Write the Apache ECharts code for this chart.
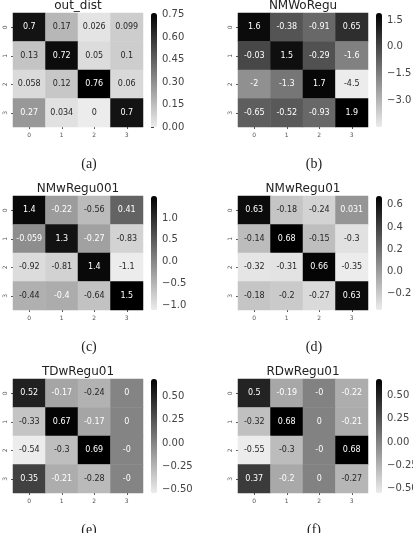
<!DOCTYPE html>
<html>
<head>
<meta charset="utf-8">
<script src="https://cdn.jsdelivr.net/npm/echarts@6/dist/echarts.min.js"></script>
<style>
html,body{margin:0;padding:0;background:#fff;}
#main{width:413px;height:533px;}
</style>
</head>
<body>
<div id="main"></div>
<script>
var cats = ['0', '1', '2', '3'];

var outDist = [
    [0.7, 0.17, 0.026, 0.099],
    [0.13, 0.72, 0.05, 0.1],
    [0.058, 0.12, 0.76, 0.06],
    [0.27, 0.034, 0, 0.7]
];
var nmWoRegu = [
    [1.6, -0.38, -0.91, 0.65],
    [-0.03, 1.5, -0.29, -1.6],
    [-2, -1.3, 1.7, -4.5],
    [-0.65, -0.52, -0.93, 1.9]
];
var nmwRegu001 = [
    [1.4, -0.22, -0.56, 0.41],
    [-0.059, 1.3, -0.27, -0.83],
    [-0.92, -0.81, 1.4, -1.1],
    [-0.44, -0.4, -0.64, 1.5]
];
var nmwRegu01 = [
    [0.63, -0.18, -0.24, 0.031],
    [-0.14, 0.68, -0.15, -0.3],
    [-0.32, -0.31, 0.66, -0.35],
    [-0.18, -0.2, -0.27, 0.63]
];
var tdwRegu01 = [
    [0.52, -0.17, -0.24, 0],
    [-0.33, 0.67, -0.17, 0],
    [-0.54, -0.3, 0.69, -0],
    [0.35, -0.21, -0.28, -0]
];
var rdwRegu01 = [
    [0.5, -0.19, -0, -0.22],
    [-0.32, 0.68, 0, -0.21],
    [-0.55, -0.3, -0, 0.68],
    [0.37, -0.2, 0, -0.27]
];

var titles = ['out_dist', 'NMWoRegu', 'NMwRegu001', 'NMwRegu01', 'TDwRegu01', 'RDwRegu01'];
var captions = ['(a)', '(b)', '(c)', '(d)', '(e)', '(f)'];
var mats = [outDist, nmWoRegu, nmwRegu001, nmwRegu01, tdwRegu01, rdwRegu01];

// colorbar tick labels
var cbTicks = [
    [0, 0.15, 0.3, 0.45, 0.6, 0.75],
    [-3, -1.5, 0, 1.5],
    [-1, -0.5, 0, 0.5, 1],
    [-0.2, 0, 0.2, 0.4, 0.6],
    [-0.5, -0.25, 0, 0.25, 0.5],
    [-0.5, -0.25, 0, 0.25, 0.5]
];
var cbDecimals = [2, 1, 1, 1, 2, 2];

function fmtCell(v) {
    if (Object.is(v, -0)) return '-0';
    return String(v);
}
function cellTextColor(v, lo, hi) {
    var t = (v - lo) / (hi - lo);
    var g = 236 * (1 - t);
    return g < 175 ? '#ffffff' : '#262626';
}

function buildOption() {
    var colLeft = [13, 238];
    var rowTop = [13, 196, 379];
    var W = 130, H = 114;
    var grids = [], xAxes = [], yAxes = [], series = [], visualMaps = [], graphics = [];

    mats.forEach(function (m, i) {
        var gLeft = colLeft[i % 2];
        var gTop = rowTop[Math.floor(i / 2)];
        var lo = Infinity, hi = -Infinity;
        m.forEach(function (row) {
            row.forEach(function (v) {
                lo = Math.min(lo, v);
                hi = Math.max(hi, v);
            });
        });

        // heatmap grid
        grids.push({left: gLeft, top: gTop, width: W, height: H, outerBoundsMode: 'none'});
        xAxes.push({
            type: 'category', gridIndex: 2 * i, data: cats,
            axisLine: {show: false},
            axisTick: {show: true, alignWithLabel: true, length: 2, lineStyle: {color: '#555'}},
            axisLabel: {fontSize: 6, color: '#555', margin: 5, fontFamily: 'DejaVu Sans'},
            splitLine: {show: false}
        });
        yAxes.push({
            type: 'category', gridIndex: 2 * i, data: cats, inverse: true,
            axisLine: {show: false},
            axisTick: {show: true, alignWithLabel: true, length: 2, lineStyle: {color: '#555'}},
            axisLabel: {fontSize: 6, color: '#555', margin: 5, rotate: 90, fontFamily: 'DejaVu Sans'},
            splitLine: {show: false}
        });

        // colorbar axis
        var dec = cbDecimals[i];
        grids.push({left: gLeft + 138, top: gTop, width: 6, height: H, outerBoundsMode: 'none'});
        xAxes.push({type: 'value', gridIndex: 2 * i + 1, show: false, min: 0, max: 1});
        yAxes.push({
            type: 'value', gridIndex: 2 * i + 1, position: 'right',
            min: lo, max: hi,
            axisLine: {show: false},
            splitLine: {show: false},
            axisTick: {show: true, length: 3, customValues: cbTicks[i], lineStyle: {color: '#444'}},
            axisLabel: {
                customValues: cbTicks[i], fontSize: 10, color: '#444', margin: 5,
                fontFamily: 'DejaVu Sans',
                formatter: function (v) { return v.toFixed(dec).replace('-', '\u2212'); }
            }
        });

        var data = [];
        m.forEach(function (row, r) {
            row.forEach(function (v, c) {
                data.push({value: [c, r, v], label: {color: cellTextColor(v, lo, hi)}});
            });
        });
        series.push({
            type: 'heatmap', xAxisIndex: 2 * i, yAxisIndex: 2 * i,
            data: data,
            itemStyle: {borderWidth: 0},
            label: {
                show: true, fontSize: 8, fontFamily: 'DejaVu Sans',
                formatter: function (p) { return fmtCell(m[p.value[1]][p.value[0]]); }
            },
            emphasis: {disabled: true}
        });

        visualMaps.push({
            type: 'continuous', seriesIndex: i, dimension: 2,
            min: lo, max: hi, calculable: false,
            left: gLeft + 138, top: gTop, itemWidth: 6, itemHeight: H,
            padding: 0, hoverLink: false,
            inRange: {color: ['#ececec', '#000000']}
        });

        graphics.push({
            type: 'text', x: gLeft + 65, y: gTop - 7,
            style: {text: titles[i], font: '12px "DejaVu Sans"', fill: '#222', textAlign: 'center', textVerticalAlign: 'middle'}
        });
        graphics.push({
            type: 'text', x: gLeft + 76, y: gTop + 151,
            style: {text: captions[i], font: '14px "Liberation Serif"', fill: '#222', textAlign: 'center', textVerticalAlign: 'middle'}
        });
    });

    return {
        backgroundColor: '#ffffff',
        animation: false,
        grid: grids,
        xAxis: xAxes,
        yAxis: yAxes,
        visualMap: visualMaps,
        series: series,
        graphic: graphics
    };
}

var myChart = echarts.init(document.getElementById('main'));
myChart.setOption(buildOption());
</script>
</body>
</html>
